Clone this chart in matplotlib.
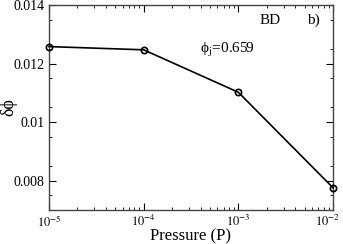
import numpy as np
import matplotlib.pyplot as plt
import matplotlib.transforms as mtransforms
from matplotlib.ticker import FixedLocator, LogLocator, NullFormatter

plt.rcParams['font.family'] = ['Liberation Serif', 'DejaVu Serif']
plt.rcParams['mathtext.fontset'] = 'stix'

pressure = [1e-5, 1e-4, 1e-3, 1e-2]
dphi = [0.01258, 0.01247, 0.01102, 0.00776]
yticks = [0.008, 0.01, 0.012, 0.014]
ylabels = ['0.008', '0.01', '0.012', '0.014']
xticks = [1e-5, 1e-4, 1e-3, 1e-2]
xlabels = [r'$10^{-5}$', r'$10^{-4}$', r'$10^{-3}$', r'$10^{-2}$']

fig = plt.figure(figsize=(3.43, 2.44), dpi=100)
ax = fig.add_axes([49 / 343, 1 - 210 / 244, 284 / 343, 205 / 244])

ax.plot(pressure, dphi, color='black', lw=1.2, marker='o', ms=4.5,
        mfc='none', mec='black', mew=1.2, clip_on=False, zorder=3)
ax.set_xscale('log')
ax.set_xlim(1e-5, 1e-2)
ax.set_ylim(0.007, 0.014)
ax.set_xticks(xticks)
ax.set_xticklabels(xlabels)
ax.set_yticks(yticks)
ax.set_yticklabels(ylabels)
ax.yaxis.set_minor_locator(FixedLocator(np.arange(0.0075, 0.014, 0.001)))
ax.xaxis.set_minor_locator(LogLocator(base=10, subs=np.arange(2, 10)))
ax.xaxis.set_minor_formatter(NullFormatter())

ax.tick_params(which='both', direction='in', top=True, right=True)
ax.tick_params(axis='y', labelsize=10)
ax.tick_params(axis='x', labelsize=9, pad=3)
ax.tick_params(which='major', length=5, width=0.8)
ax.tick_params(which='minor', length=2.5, width=0.6)
for s in ax.spines.values():
    s.set_linewidth(1.0)
    s.set_color('#444444')

# nudge last x label left so it stays inside the figure
last = ax.get_xticklabels()[-1]
last.set_transform(last.get_transform() +
                   mtransforms.ScaledTranslation(-4 / 72, 0, fig.dpi_scale_trans))

ax.set_xlabel('Pressure (P)', fontsize=12)
ax.xaxis.set_label_coords(0.5, -0.088)
ax.set_ylabel('δϕ', fontsize=13)
ax.yaxis.set_label_coords(-0.11, 0.5)

ax.text(0.74, 0.925, 'BD', transform=ax.transAxes, fontsize=11, va='center')
ax.text(0.91, 0.925, 'b)', transform=ax.transAxes, fontsize=11, va='center')
ax.text(0.53, 0.78, 'ϕ$_\\mathrm{j}$=0.659', transform=ax.transAxes, fontsize=11, va='center')

fig.savefig('out.png', dpi=100)
